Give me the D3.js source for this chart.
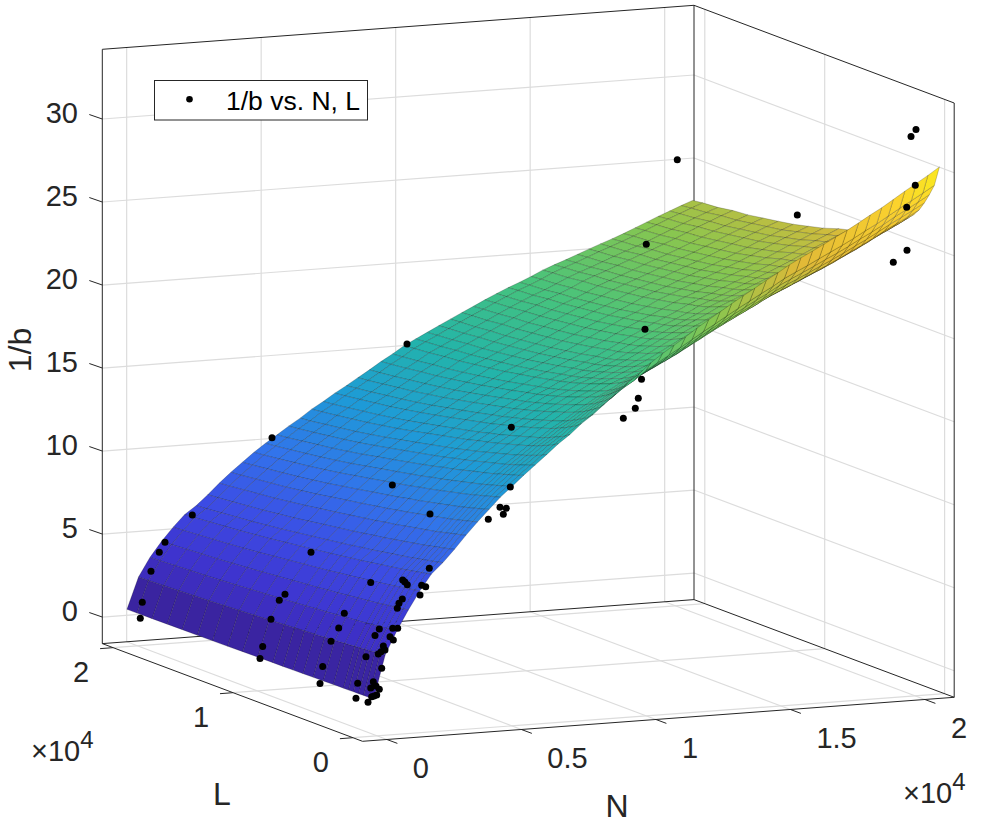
<!DOCTYPE html>
<html>
<head>
<meta charset="utf-8">
<script src="https://cdn.jsdelivr.net/npm/d3@7"></script>
<style>
  body { margin: 0; background: #fff; }
  text { font-family: "Liberation Sans", Arial, sans-serif; }
</style>
</head>
<body>
<div id="chart"></div>
<script>
// surface nodes
var nValues = [1,430,859,1289,1718,2147,2576,3005,3435,3864,4293,4722,5151,5581,6010,6439,6868,7297,7727,8156,8585,9014,9443,9873,10302,10731,11160,11589,12019,12448,12877,13306,13735,14165,14594,15023,15452,15881,16311,16740,17169,17598,18027,18457,18886,19315,19744,20173,20603,21032];
var lValues = [300,720,1140,1560,1980,2400,2820,3660,4500,5340,6180,7020,7860,8700,9960,11220,12480,13740,15000,16260,17520,18780,20040,20880];

// 1/b at every node: one row per N, one column per L
var zGrid = [
[.54,.53,.53,.52,.52,.51,.51,.50,.49,.48,.47,.46,.45,.45,.44,.43,.41,.40,.39,.39,.38,.37,.36,.36],
[3.15,3.11,3.09,3.06,3.03,3.01,2.98,2.93,2.89,2.84,2.8,2.76,2.72,2.68,2.63,2.57,2.52,2.47,2.42,2.38,2.34,2.3,2.27,2.25],
[4.54,4.49,4.46,4.43,4.39,4.36,4.32,4.26,4.21,4.15,4.09,4.05,3.99,3.94,3.87,3.8,3.74,3.67,3.61,3.55,3.51,3.46,3.41,3.39],
[5.75,5.69,5.65,5.61,5.56,5.52,5.47,5.4,5.33,5.26,5.18,5.13,5.05,5,4.91,4.82,4.74,4.65,4.58,4.5,4.45,4.39,4.33,4.3],
[6.85,6.78,6.73,6.68,6.62,6.57,6.52,6.43,6.34,6.26,6.17,6.1,6.01,5.94,5.84,5.73,5.63,5.52,5.43,5.35,5.28,5.21,5.14,5.1],
[7.81,7.73,7.67,7.61,7.55,7.49,7.43,7.33,7.23,7.13,7.03,6.95,6.85,6.77,6.65,6.53,6.41,6.29,6.19,6.09,6.01,5.93,5.85,5.81],
[8.45,8.36,8.3,8.24,8.17,8.11,8.04,7.93,7.83,7.72,7.61,7.53,7.42,7.33,7.2,7.07,6.95,6.82,6.71,6.6,6.52,6.43,6.34,6.3],
[9.2,9.11,9.04,8.97,8.9,8.83,8.76,8.65,8.53,8.42,8.3,8.21,8.1,8,7.87,7.73,7.59,7.45,7.34,7.22,7.13,7.04,6.95,6.9],
[10,9.9,9.83,9.76,9.68,9.61,9.53,9.41,9.29,9.17,9.04,8.95,8.82,8.73,8.58,8.43,8.29,8.14,8.02,7.89,7.8,7.7,7.6,7.55],
[10.75,10.65,10.57,10.49,10.41,10.33,10.26,10.13,10,9.87,9.74,9.63,9.5,9.4,9.24,9.09,8.93,8.77,8.64,8.51,8.41,8.31,8.2,8.15],
[11.45,11.34,11.26,11.18,11.09,11.01,10.93,10.79,10.65,10.52,10.38,10.27,10.13,10.02,9.86,9.69,9.53,9.36,9.22,9.09,8.98,8.87,8.76,8.7],
[12.15,12.03,11.95,11.86,11.77,11.69,11.6,11.45,11.31,11.16,11.02,10.9,10.76,10.64,10.47,10.29,10.12,9.95,9.8,9.66,9.54,9.42,9.31,9.25],
[12.74,12.62,12.53,12.44,12.35,12.26,12.17,12.02,11.87,11.72,11.57,11.45,11.3,11.18,11,10.82,10.64,10.46,10.31,10.16,10.04,9.92,9.8,9.74],
[13.35,13.22,13.13,13.04,12.94,12.85,12.75,12.59,12.44,12.28,12.12,12,11.84,11.71,11.52,11.33,11.15,10.96,10.8,10.64,10.52,10.39,10.26,10.2],
[13.92,13.78,13.68,13.57,13.47,13.37,13.27,13.11,12.95,12.78,12.62,12.49,12.33,12.2,12.01,11.82,11.63,11.44,11.27,11.12,10.99,10.86,10.74,10.67],
[14.5,14.33,14.21,14.1,13.98,13.88,13.77,13.6,13.43,13.26,13.09,12.95,12.79,12.66,12.46,12.26,12.07,11.88,11.71,11.55,11.42,11.29,11.16,11.1],
[15.09,14.89,14.76,14.64,14.51,14.4,14.29,14.1,13.93,13.75,13.59,13.45,13.28,13.15,12.95,12.75,12.55,12.36,12.2,12.04,11.91,11.78,11.66,11.59],
[15.6,15.38,15.23,15.09,14.96,14.84,14.72,14.53,14.35,14.17,13.99,13.85,13.68,13.55,13.35,13.15,12.96,12.77,12.6,12.45,12.32,12.19,12.06,12],
[16.2,15.94,15.78,15.62,15.47,15.34,15.22,15.01,14.82,14.64,14.46,14.31,14.14,14.01,13.8,13.6,13.4,13.22,13.05,12.89,12.77,12.64,12.52,12.45],
[16.7,16.41,16.22,16.05,15.89,15.75,15.62,15.41,15.21,15.02,14.84,14.69,14.52,14.39,14.18,13.98,13.79,13.6,13.44,13.29,13.17,13.03,12.92,12.85],
[17.28,16.95,16.74,16.55,16.37,16.22,16.09,15.86,15.66,15.46,15.27,15.11,14.94,14.81,14.6,14.4,14.21,14.02,13.87,13.71,13.59,13.46,13.34,13.28],
[17.85,17.46,17.22,17.01,16.81,16.65,16.5,16.26,16.05,15.84,15.65,15.48,15.32,15.19,14.98,14.78,14.59,14.41,14.26,14.12,14,13.87,13.76,13.7],
[18.45,17.99,17.72,17.48,17.25,17.08,16.92,16.66,16.45,16.23,16.04,15.87,15.7,15.58,15.37,15.18,14.99,14.83,14.68,14.54,14.44,14.31,14.21,14.15],
[18.95,18.43,18.13,17.85,17.61,17.42,17.26,16.98,16.76,16.54,16.35,16.17,16.01,15.89,15.69,15.5,15.33,15.18,15.04,14.91,14.82,14.7,14.61,14.55],
[19.55,18.96,18.62,18.31,18.04,17.83,17.66,17.37,17.14,16.91,16.72,16.54,16.38,16.26,16.06,15.89,15.72,15.58,15.46,15.33,15.25,15.14,15.06,15],
[20.05,19.38,19,18.66,18.36,18.14,17.96,17.64,17.41,17.17,16.98,16.79,16.64,16.53,16.33,16.16,16,15.88,15.76,15.65,15.58,15.47,15.41,15.35],
[20.5,19.79,19.39,19.03,18.71,18.48,18.29,17.97,17.73,17.49,17.29,17.1,16.94,16.84,16.64,16.48,16.32,16.2,16.09,15.98,15.92,15.82,15.75,15.7],
[20.95,20.2,19.77,19.38,19.06,18.82,18.62,18.28,18.04,17.79,17.6,17.4,17.25,17.15,16.95,16.79,16.64,16.53,16.42,16.32,16.26,16.16,16.1,16.05],
[21.44,20.63,20.18,19.77,19.42,19.17,18.97,18.61,18.36,18.11,17.91,17.7,17.55,17.45,17.25,17.1,16.95,16.84,16.74,16.64,16.59,16.49,16.44,16.39],
[21.88,21.06,20.59,20.18,19.82,19.56,19.36,19,18.74,18.48,18.28,18.07,17.91,17.81,17.61,17.45,17.3,17.19,17.09,16.99,16.94,16.83,16.78,16.73],
[22.31,21.47,21,20.58,20.21,19.95,19.74,19.37,19.11,18.85,18.64,18.43,18.27,18.16,17.95,17.8,17.64,17.53,17.43,17.32,17.27,17.17,17.11,17.06],
[22.75,21.89,21.41,20.98,20.61,20.34,20.13,19.75,19.49,19.22,19.01,18.79,18.63,18.52,18.31,18.15,17.99,17.88,17.77,17.67,17.61,17.51,17.45,17.4],
[23.17,22.3,21.81,21.37,20.99,20.72,20.5,20.12,19.85,19.57,19.36,19.14,18.97,18.86,18.65,18.48,18.32,18.21,18.1,17.99,17.94,17.83,17.77,17.72],
[23.58,22.69,22.19,21.75,21.36,21.08,20.86,20.47,20.19,19.92,19.7,19.47,19.31,19.2,18.97,18.81,18.64,18.53,18.42,18.31,18.25,18.14,18.09,18.03],
[24,23.09,22.58,22.12,21.72,21.44,21.21,20.81,20.52,20.24,20.01,19.78,19.61,19.5,19.27,19.1,18.93,18.81,18.7,18.59,18.53,18.41,18.36,18.3],
[24.4,23.47,22.95,22.49,22.08,21.79,21.56,21.15,20.86,20.57,20.34,20.11,19.93,19.82,19.59,19.41,19.24,19.12,19.01,18.89,18.83,18.72,18.66,18.6],
[24.83,23.89,23.36,22.88,22.47,22.18,21.94,21.53,21.23,20.94,20.7,20.46,20.29,20.17,19.93,19.76,19.58,19.46,19.34,19.23,19.17,19.05,18.99,18.93],
[25.2,24.24,23.7,23.22,22.8,22.5,22.26,21.84,21.54,21.24,21,20.76,20.58,20.46,20.22,20.04,19.86,19.74,19.62,19.5,19.44,19.32,19.26,19.2],
[25.55,24.57,24.03,23.54,23.11,22.81,22.56,22.13,21.83,21.52,21.28,21.04,20.85,20.73,20.49,20.3,20.12,20,19.88,19.76,19.69,19.57,19.51,19.45],
[25.92,24.93,24.37,23.87,23.44,23.13,22.88,22.45,22.14,21.83,21.58,21.33,21.15,21.02,20.77,20.59,20.4,20.28,20.15,20.03,19.97,19.84,19.78,19.72],
[26.29,25.28,24.72,24.21,23.77,23.46,23.2,22.76,22.45,22.13,21.88,21.63,21.44,21.31,21.06,20.87,20.68,20.56,20.43,20.31,20.24,20.12,20.05,19.99],
[26.65,25.63,25.05,24.54,24.09,23.77,23.51,23.07,22.75,22.43,22.17,21.91,21.72,21.59,21.34,21.15,20.95,20.83,20.7,20.57,20.51,20.38,20.31,20.25],
[27.05,26,25.41,24.89,24.43,24.1,23.84,23.38,23.05,22.73,22.47,22.2,22.01,21.88,21.61,21.42,21.22,21.09,20.96,20.83,20.76,20.63,20.57,20.5],
[27.47,26.4,25.8,25.26,24.79,24.46,24.19,23.72,23.38,23.05,22.78,22.51,22.31,22.18,21.91,21.71,21.51,21.37,21.24,21.11,21.04,20.9,20.84,20.77],
[27.86,26.77,26.16,25.62,25.14,24.8,24.53,24.05,23.71,23.37,23.1,22.83,22.62,22.49,22.22,22.01,21.81,21.67,21.54,21.4,21.33,21.2,21.13,21.06],
[28.3,27.19,26.56,26.01,25.52,25.17,24.89,24.41,24.06,23.71,23.44,23.16,22.95,22.81,22.53,22.32,22.11,21.98,21.84,21.7,21.63,21.49,21.42,21.35],
[28.75,27.61,26.98,26.41,25.91,25.56,25.27,24.77,24.42,24.06,23.78,23.5,23.28,23.14,22.86,22.64,22.43,22.29,22.15,22.01,21.93,21.79,21.72,21.65],
[29.17,28.01,27.36,26.78,26.27,25.91,25.62,25.11,24.75,24.39,24.1,23.81,23.59,23.44,23.15,22.94,22.72,22.57,22.43,22.28,22.21,22.07,21.99,21.92],
[29.6,28.42,27.75,27.16,26.64,26.27,25.97,25.46,25.09,24.72,24.42,24.12,23.9,23.75,23.46,23.24,23.01,22.87,22.72,22.57,22.5,22.35,22.27,22.2],
[30.06,28.84,28.16,27.55,27.02,26.64,26.34,25.8,25.42,25.04,24.74,24.44,24.21,24.06,23.75,23.52,23.3,23.14,22.99,22.84,22.76,22.61,22.54,22.46]
];

// measured points
var nData = [18231,19718,20041,19856,20015,19696,19707,19198,13361,13313,10581,10462,10350,9905,6856,7440,4652,1875,3920,3834,5704,5321,5555,5444,4886,860,648,339,202,128,897,2693,515,1703,1786,1875,2409,2559,2347,674,462,1689,1566,1503,648,339,440,834,1332,1518,674,1232,1355,154,983,1045,897,797,216,339,117,216,923,117,31,611,834,515,737,551,-33,414,711,636];
var lData = [15880,9208,34,34,34,34,34,34,7540,7540,1702,1702,1702,1702,4204,14212,19216,19633,7540,4204,1702,1702,1702,1702,1702,19633,19633,19633,20050,20050,7540,1702,1702,1702,1702,1702,1702,1702,1702,9208,9208,1702,1702,1702,4204,9625,4204,1702,1702,1702,1702,1702,1702,4204,1702,1702,1702,1702,10042,1702,10042,5038,1702,5038,1702,1702,1702,1702,1702,1702,1702,1702,1702,1702];
var zData = [26.6,24.9,32.5,32.1,29.15,27.86,25.27,24.61,24.36,19.25,18.14,17.02,16.43,15.88,15.03,17.26,10.58,6.16,11.0,10.17,12.25,11.07,10.98,10.63,10.4,4.64,4.06,2.95,0.99,0.04,7.31,7.71,7.11,7.13,6.99,6.82,6.72,6.62,6.14,4.35,4.02,5.98,5.74,5.45,4.57,2.77,3.71,4.28,4.26,4.24,3.91,3.76,3.55,2.94,3.23,2.99,2.9,2.78,1.03,2.67,0.32,1.18,1.9,0.17,1.1,1.13,0.64,0.76,0.31,0.23,0.21,-0.09,0.86,0.26];

var nTicks = [0,5000,10000,15000,20000];
var nTickLabels = ["0","0.5","1","1.5","2"];
var lTicks = [0,10000,20000];
var lTickLabels = ["0","1","2"];
var zTicks = [0,5,10,15,20,25,30];
var parula = ["#3A24A0","#3E32CD","#3C4BE4","#3273EB","#1E9BD7","#23B4AA","#46C37D","#87C650","#E1B937","#FBD22E","#F9FB14"];

var w = 983, h = 830;
var nLim = [-906,21090], lLim = [-800,20900], zLim = [-1.6,34.2];

// screen position of the front floor corner and the three box edges
var origin = [362.5,741.3];
var nVec = [591.7,-44], lVec = [-260.2,-97.7], zVec = [0,-594.3];

var nScale = d3.scaleLinear().domain(nLim).range([0,1]);
var lScale = d3.scaleLinear().domain(lLim).range([0,1]);
var zScale = d3.scaleLinear().domain(zLim).range([0,1]);
var colorScale = d3.scaleLinear().domain(d3.range(11).map(function(i){return i/10;})).range(parula);
var cNorm = d3.scaleLinear().domain(d3.extent(d3.merge(zGrid))).range([0,1]);

function project(n,l,z) {
  var a = nScale(n), b = lScale(l), c = zScale(z);
  return [origin[0]+a*nVec[0]+b*lVec[0]+c*zVec[0], origin[1]+a*nVec[1]+b*lVec[1]+c*zVec[1]];
}
// bigger is further from the viewer
function depth(n,l,z) { return 0.396*nScale(n)+0.903*lScale(l)-0.152*zScale(z); }

var svg = d3.select("#chart").append("svg").attr("width",w).attr("height",h);
var gridColor = "#dcdcdc", axisColor = "#262626";

function seg(g,p,q,color,width) {
  g.append("line").attr("x1",p[0]).attr("y1",p[1]).attr("x2",q[0]).attr("y2",q[1]).attr("stroke",color).attr("stroke-width",width);
}

// grid on floor and back walls
var grid = svg.append("g");
nTicks.forEach(function(t){
  seg(grid,project(t,lLim[0],zLim[0]),project(t,lLim[1],zLim[0]),gridColor,1.2);
  seg(grid,project(t,lLim[1],zLim[0]),project(t,lLim[1],zLim[1]),gridColor,1.2);
});
lTicks.forEach(function(t){
  seg(grid,project(nLim[0],t,zLim[0]),project(nLim[1],t,zLim[0]),gridColor,1.2);
  seg(grid,project(nLim[1],t,zLim[0]),project(nLim[1],t,zLim[1]),gridColor,1.2);
});
zTicks.forEach(function(t){
  seg(grid,project(nLim[0],lLim[1],t),project(nLim[1],lLim[1],t),gridColor,1.2);
  seg(grid,project(nLim[1],lLim[1],t),project(nLim[1],lLim[0],t),gridColor,1.2);
});

// box
var box = svg.append("g");
[[[nLim[0],lLim[1],zLim[0]],[nLim[0],lLim[1],zLim[1]]],
 [[nLim[0],lLim[1],zLim[1]],[nLim[1],lLim[1],zLim[1]]],
 [[nLim[1],lLim[1],zLim[1]],[nLim[1],lLim[0],zLim[1]]],
 [[nLim[1],lLim[0],zLim[1]],[nLim[1],lLim[0],zLim[0]]],
 [[nLim[1],lLim[1],zLim[1]],[nLim[1],lLim[1],zLim[0]]],
 [[nLim[0],lLim[1],zLim[0]],[nLim[1],lLim[1],zLim[0]]],
 [[nLim[1],lLim[1],zLim[0]],[nLim[1],lLim[0],zLim[0]]],
 [[nLim[0],lLim[1],zLim[0]],[nLim[0],lLim[0],zLim[0]]],
 [[nLim[0],lLim[0],zLim[0]],[nLim[1],lLim[0],zLim[0]]]
].forEach(function(e){ seg(box,project.apply(null,e[0]),project.apply(null,e[1]),axisColor,1); });

// ticks and labels
var tickFont = 29, labelFont = 32;
var ticks = svg.append("g");
nTicks.forEach(function(t,i){
  var p = project(t,lLim[0],zLim[0]);
  seg(ticks,p,[p[0]+10.5,p[1]+3.9],axisColor,1);
  ticks.append("text").attr("x",p[0]+26).attr("y",p[1]+39).attr("font-size",tickFont).attr("fill",axisColor).text(nTickLabels[i]);
});
lTicks.forEach(function(t,i){
  var p = project(nLim[0],t,zLim[0]);
  seg(ticks,p,[p[0]-13,p[1]+1],axisColor,1);
  ticks.append("text").attr("x",p[0]-32).attr("y",p[1]+34).attr("font-size",tickFont).attr("fill",axisColor).attr("text-anchor","middle").text(lTickLabels[i]);
});
zTicks.forEach(function(t){
  var p = project(nLim[0],lLim[1],t);
  seg(ticks,p,[p[0]-13,p[1]-4.5],axisColor,1);
  ticks.append("text").attr("x",78).attr("y",p[1]+3.5).attr("font-size",tickFont).attr("fill",axisColor).attr("text-anchor","end").text(t);
});
function exponent(x,y) {
  var t = ticks.append("text").attr("x",x).attr("y",y).attr("font-size",tickFont).attr("fill",axisColor);
  t.append("tspan").text("\u00d710");
  t.append("tspan").attr("dy",-13).attr("font-size",24).text("4");
}
exponent(903,803);
exponent(31,761);
ticks.append("text").attr("x",617).attr("y",817).attr("font-size",labelFont).attr("fill",axisColor).attr("text-anchor","middle").text("N");
ticks.append("text").attr("x",222).attr("y",805).attr("font-size",labelFont).attr("fill",axisColor).attr("text-anchor","middle").text("L");
ticks.append("text").attr("transform","translate(31,350) rotate(-90)").attr("font-size",labelFont).attr("fill",axisColor).attr("text-anchor","middle").text("1/b");

// surface, far cells first
var cells = [];
for (var i = 0; i < nValues.length-1; i++) {
  for (var j = 0; j < lValues.length-1; j++) {
    var corners = [[i,j],[i+1,j],[i+1,j+1],[i,j+1]];
    cells.push({
      pts: corners.map(function(c){ return project(nValues[c[0]],lValues[c[1]],zGrid[c[0]][c[1]]); }),
      z: zGrid[i][j+1],
      d: d3.mean(corners,function(c){ return depth(nValues[c[0]],lValues[c[1]],zGrid[c[0]][c[1]]); })
    });
  }
}
cells.sort(function(a,b){ return b.d-a.d; });
var line = d3.line();
svg.append("g").selectAll("path").data(cells).enter().append("path")
  .attr("d",function(d){ return line(d.pts)+"Z"; })
  .attr("fill",function(d){ return colorScale(cNorm(d.z)); })
  .attr("stroke","#000").attr("stroke-opacity",0.25).attr("stroke-width",0.8).attr("stroke-linejoin","round");

// data points
svg.append("g").selectAll("circle").data(nData).enter().append("circle")
  .attr("cx",function(d,i){ return project(d,lData[i],zData[i])[0]; })
  .attr("cy",function(d,i){ return project(d,lData[i],zData[i])[1]; })
  .attr("r",3.5).attr("fill","#000");

// legend
var legend = svg.append("g");
legend.append("rect").attr("x",154.5).attr("y",80.5).attr("width",213).attr("height",39.5).attr("fill","#fff").attr("stroke",axisColor).attr("stroke-width",1);
legend.append("circle").attr("cx",189.5).attr("cy",99.3).attr("r",3.3).attr("fill","#000");
legend.append("text").attr("x",226).attr("y",110).attr("font-size",26.5).attr("fill","#000").text("1/b vs. N, L");
</script>
</body>
</html>
